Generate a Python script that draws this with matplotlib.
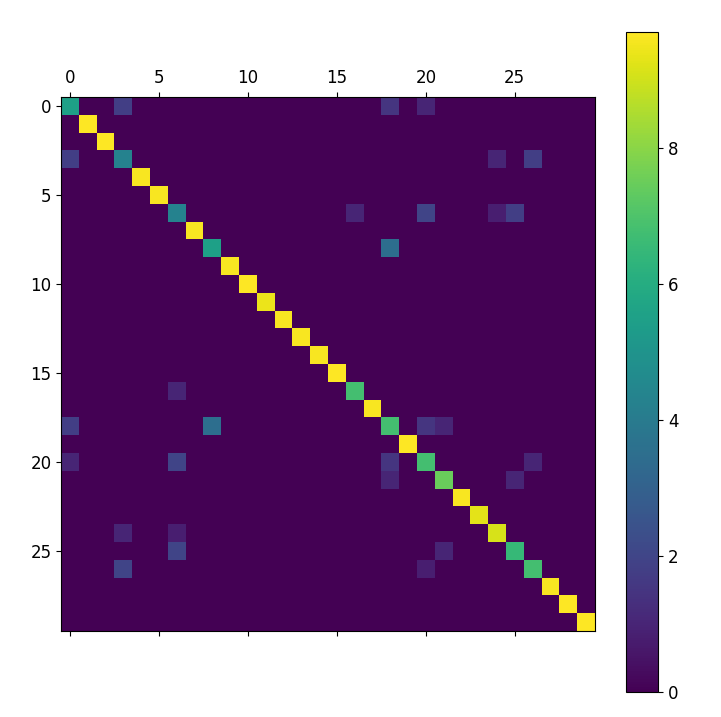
import numpy as np
import matplotlib
matplotlib.use("Agg")
import matplotlib.pyplot as plt

n = 30
diag_values = [5.5, 9.7, 9.7, 4.3, 9.6, 9.6, 4.3, 9.6, 5.5, 9.6,
               9.7, 9.4, 9.6, 9.6, 9.6, 9.7, 6.8, 9.6, 6.8, 9.7,
               6.8, 7.5, 9.6, 9.3, 9.1, 6.5, 6.8, 9.6, 9.7, 9.7]
off_rows = [0, 0, 0, 3, 3, 3, 6, 6, 6, 6, 8, 16, 18, 18, 18, 18, 20, 20, 20, 20, 21, 21, 24, 24, 25, 25, 26, 26]
off_cols = [3, 18, 20, 0, 24, 26, 16, 20, 24, 25, 18, 6, 0, 8, 20, 21, 0, 6, 18, 26, 18, 25, 3, 6, 6, 21, 3, 20]
off_vals = [1.8, 1.5, 1.0, 1.8, 1.0, 1.8, 1.0, 2.0, 0.8, 1.8, 3.5, 1.0, 1.8, 3.5, 1.5, 1.0, 1.0, 2.0, 1.5, 1.0, 1.0, 1.0, 1.0, 0.8, 2.0, 1.0, 2.0, 0.8]

M = np.zeros((n, n))
for i, v in enumerate(diag_values):
    M[i, i] = v
for r, c, v in zip(off_rows, off_cols, off_vals):
    M[r, c] = v

fig = plt.figure(figsize=(7.21, 7.17), dpi=100)
ax = fig.add_axes([0.085, 0.12, 0.74, 0.745])
im = ax.matshow(M, cmap="viridis")
ax.set_xticks([0, 5, 10, 15, 20, 25])
ax.set_yticks([0, 5, 10, 15, 20, 25])
for lab in ax.get_xticklabels() + ax.get_yticklabels():
    lab.set_fontsize(12)
cax = fig.add_axes([0.868, 0.035, 0.045, 0.92])
cb = fig.colorbar(im, cax=cax)
cb.ax.tick_params(labelsize=12)
fig.savefig("out.png", dpi=100)
